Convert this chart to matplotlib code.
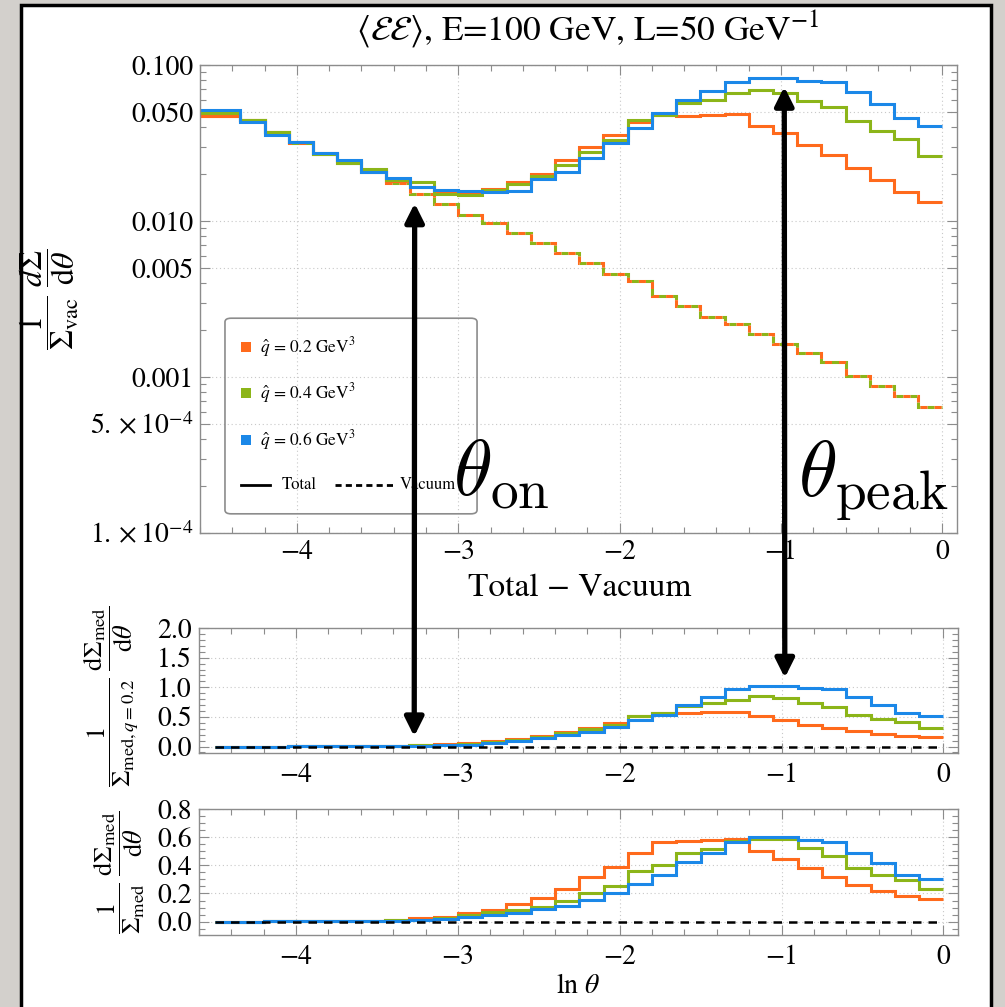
import numpy as np
import matplotlib
matplotlib.use("Agg")
import matplotlib.pyplot as plt
from matplotlib.patches import Rectangle, FancyBboxPatch, ConnectionPatch
from matplotlib.lines import Line2D
from matplotlib.ticker import FixedLocator, FixedFormatter, MultipleLocator, LogLocator, NullFormatter

plt.rcParams['font.family'] = 'STIXGeneral'
plt.rcParams['mathtext.fontset'] = 'stix'
plt.rcParams['axes.unicode_minus'] = True

# ln(theta) bins of width 0.15; the top panel's first bin runs out past the frame
edges = np.round(np.linspace(-4.5, 0.0, 31), 2)
top_edges = np.r_[-4.65, edges[1:]]

qhat = ["0.2", "0.4", "0.6"]
colors = ["#ff6a1c", "#8cb519", "#1b88e8"]

# 1/Sigma_vac dSigma/dtheta
total_02 = [0.0471, 0.0444, 0.0374, 0.0320, 0.0272, 0.0242, 0.0212, 0.0181, 0.0165, 0.0155,
            0.0154, 0.0160, 0.0177, 0.0201, 0.0246, 0.0299, 0.0356, 0.0433, 0.0478, 0.0471,
            0.0478, 0.0485, 0.0408, 0.0368, 0.0307, 0.0267, 0.0220, 0.0183, 0.0154, 0.0132]
total_04 = [0.0494, 0.0444, 0.0374, 0.0320, 0.0270, 0.0237, 0.0217, 0.0183, 0.0177, 0.0150,
            0.0147, 0.0158, 0.0174, 0.0194, 0.0228, 0.0278, 0.0331, 0.0444, 0.0478, 0.0568,
            0.0597, 0.0665, 0.0692, 0.0665, 0.0590, 0.0541, 0.0438, 0.0379, 0.0337, 0.0261]
total_06 = [0.0515, 0.0433, 0.0356, 0.0321, 0.0272, 0.0246, 0.0207, 0.0190, 0.0166, 0.0158,
            0.0155, 0.0154, 0.0156, 0.0185, 0.0206, 0.0255, 0.0315, 0.0392, 0.0490, 0.0597,
            0.0684, 0.0774, 0.0829, 0.0822, 0.0789, 0.0774, 0.0668, 0.0562, 0.0459, 0.0408]
vacuum = [0.0470, 0.0442, 0.0370, 0.0318, 0.0268, 0.0236, 0.0205, 0.0176, 0.0148, 0.0128,
          0.0110, 0.00966, 0.00841, 0.00719, 0.00627, 0.00536, 0.00457, 0.00412, 0.00330, 0.00285,
          0.00244, 0.00219, 0.00189, 0.00163, 0.00142, 0.00124, 0.00102, 0.00088, 0.00076, 0.000646]

# Total - Vacuum, normalised to the qhat = 0.2 medium part
med_rel_02 = [0.0, 0.0, 0.0, 0.002, 0.004, 0.006, 0.010, 0.015, 0.025, 0.035,
              0.057, 0.085, 0.120, 0.170, 0.240, 0.320, 0.390, 0.510, 0.560, 0.560,
              0.575, 0.590, 0.507, 0.440, 0.367, 0.320, 0.265, 0.210, 0.180, 0.158]
med_rel_04 = [0.0, 0.0, 0.0, 0.002, 0.004, 0.006, 0.009, 0.013, 0.020, 0.030,
              0.045, 0.075, 0.110, 0.155, 0.220, 0.290, 0.370, 0.510, 0.560, 0.680,
              0.730, 0.790, 0.856, 0.817, 0.730, 0.665, 0.535, 0.473, 0.417, 0.320]
med_rel_06 = [0.0, 0.0, 0.0, 0.002, 0.003, 0.005, 0.008, 0.012, 0.015, 0.020,
              0.030, 0.060, 0.085, 0.140, 0.190, 0.250, 0.335, 0.440, 0.535, 0.700,
              0.830, 0.970, 1.025, 1.025, 0.986, 0.970, 0.830, 0.700, 0.564, 0.507]

# Total - Vacuum, each normalised to itself
med_02 = [0.0, 0.0, 0.001, 0.002, 0.003, 0.005, 0.008, 0.012, 0.024, 0.036,
          0.060, 0.083, 0.122, 0.169, 0.235, 0.316, 0.385, 0.487, 0.563, 0.570,
          0.582, 0.587, 0.504, 0.447, 0.380, 0.320, 0.261, 0.221, 0.185, 0.162]
med_04 = [0.0, 0.0, 0.001, 0.001, 0.002, 0.004, 0.006, 0.009, 0.015, 0.025,
          0.046, 0.068, 0.086, 0.105, 0.146, 0.200, 0.255, 0.363, 0.399, 0.487,
          0.516, 0.570, 0.587, 0.587, 0.523, 0.468, 0.380, 0.328, 0.297, 0.231]
med_06 = [0.0, 0.0, 0.001, 0.001, 0.002, 0.003, 0.004, 0.006, 0.010, 0.017,
          0.031, 0.048, 0.060, 0.090, 0.110, 0.155, 0.202, 0.266, 0.332, 0.427,
          0.491, 0.563, 0.601, 0.601, 0.582, 0.565, 0.491, 0.416, 0.332, 0.304]

vac_minus_vac = np.asarray(vacuum) - np.asarray(vacuum)

xticks = [-4, -3, -2, -1, 0]
top_yticks = [1e-4, 5e-4, 1e-3, 5e-3, 1e-2, 5e-2, 1e-1]
top_yticklabels = [r"$1.\times10^{-4}$", r"$5.\times10^{-4}$", "0.001", "0.005",
                   "0.010", "0.050", "0.100"]
mid_yticks = [0.0, 0.5, 1.0, 1.5, 2.0]
bot_yticks = [0.0, 0.2, 0.4, 0.6, 0.8]

theta_on = -3.27
theta_peak = -0.98

frame_c = "#8c8c8c"
lw = 2.2

fig = plt.figure(figsize=(10.05, 10.07), dpi=100)
fig.patch.set_facecolor("#d3d0cc")
fig.add_artist(Rectangle((21 / 1005, -0.02), 970 / 1005, 1.02 - 5 / 1007,
                         transform=fig.transFigure, facecolor="white",
                         edgecolor="black", lw=2.5, zorder=-1))

ax1 = fig.add_axes([0.199, 0.4707, 0.7532, 0.4647])
ax2 = fig.add_axes([0.198, 0.2522, 0.7552, 0.1241])
ax3 = fig.add_axes([0.198, 0.0715, 0.7552, 0.1251])


def style_axes(ax, xpad):
    ax.set_xlim(-4.6, 0.09)
    ax.xaxis.set_major_locator(FixedLocator(xticks))
    ax.xaxis.set_minor_locator(MultipleLocator(0.2))
    for s in ax.spines.values():
        s.set_color(frame_c)
        s.set_linewidth(1.0)
    ax.tick_params(which="both", direction="in", top=True, right=True,
                   color=frame_c, width=0.8, labelsize=20)
    ax.tick_params(which="major", length=7)
    ax.tick_params(which="minor", length=4)
    ax.tick_params(axis="x", pad=xpad)
    ax.tick_params(axis="y", pad=5)
    ax.grid(True, which="major", color="#c8c8c8", ls=(0, (1, 2.5)), lw=0.8)
    ax.set_axisbelow(True)


# top panel: total (solid) and vacuum (dashed)
ax1.set_yscale("log")
ax1.set_ylim(1e-4, 0.1)
style_axes(ax1, 5)
ax1.yaxis.set_major_locator(FixedLocator(top_yticks))
ax1.yaxis.set_major_formatter(FixedFormatter(top_yticklabels))
ax1.yaxis.set_minor_locator(LogLocator(subs=np.arange(2, 10)))
ax1.yaxis.set_minor_formatter(NullFormatter())

ax1.stairs(vacuum, top_edges, baseline=None, color=colors[1], lw=lw, ls=(0, (2.3, 2.3)))
ax1.stairs(vacuum, top_edges, baseline=None, color=colors[0], lw=lw, ls=(2.3, (2.3, 2.3)))
for vals, c in zip([total_02, total_04, total_06], colors):
    ax1.stairs(vals, top_edges, baseline=None, color=c, lw=lw)

# hand-built legend box
ax1.add_patch(FancyBboxPatch((0.033, 0.041), 0.333, 0.418, transform=ax1.transAxes,
                             boxstyle="round,pad=0,rounding_size=0.008",
                             facecolor="none", edgecolor=frame_c, lw=1.2, zorder=3))
for q, c, yy in zip(qhat, colors, [0.397, 0.299, 0.199]):
    ax1.add_patch(Rectangle((0.054, yy - 0.0107), 0.0132, 0.0214, transform=ax1.transAxes,
                            facecolor=c, edgecolor="none", zorder=3))
    ax1.text(0.079, yy, r"$\hat{q}$ = " + q + r" GeV$^3$", transform=ax1.transAxes,
             fontsize=12.5, va="center", ha="left", zorder=3)
ax1.add_line(Line2D([0.054, 0.092], [0.103, 0.103], transform=ax1.transAxes,
                    color="black", lw=2, zorder=3))
ax1.text(0.108, 0.103, "Total", transform=ax1.transAxes, fontsize=12, va="center", zorder=3)
ax1.add_line(Line2D([0.178, 0.255], [0.103, 0.103], transform=ax1.transAxes,
                    color="black", lw=2, ls=(0, (2.2, 1.5)), zorder=3))
ax1.text(0.264, 0.103, "Vacuum", transform=ax1.transAxes, fontsize=12, va="center", zorder=3)

ax1.text(0.334, 0.081, r"$\theta_{\rm on}$", transform=ax1.transAxes, fontsize=57,
         math_fontfamily="cm", ha="left", va="baseline", zorder=4)
ax1.text(0.790, 0.077, r"$\theta_{\rm peak}$", transform=ax1.transAxes, fontsize=57,
         math_fontfamily="cm", ha="left", va="baseline", zorder=4)

# middle panel
ax2.set_ylim(-0.11, 2.0)
style_axes(ax2, 7)
ax2.yaxis.set_major_locator(FixedLocator(mid_yticks))
ax2.yaxis.set_major_formatter(FixedFormatter(["0.0", "0.5", "1.0", "1.5", "2.0"]))
ax2.yaxis.set_minor_locator(MultipleLocator(0.1))
for vals, c in zip([med_rel_02, med_rel_04, med_rel_06], colors):
    ax2.stairs(vals, edges, baseline=None, color=c, lw=lw)
ax2.stairs(vac_minus_vac, edges, baseline=None, color="black", lw=1.8, ls=(0, (3.4, 2.8)))

# bottom panel
ax3.set_ylim(-0.095, 0.8)
style_axes(ax3, 7)
ax3.yaxis.set_major_locator(FixedLocator(bot_yticks))
ax3.yaxis.set_major_formatter(FixedFormatter(["0.0", "0.2", "0.4", "0.6", "0.8"]))
ax3.yaxis.set_minor_locator(MultipleLocator(0.05))
for vals, c in zip([med_02, med_04, med_06], colors):
    ax3.stairs(vals, edges, baseline=None, color=c, lw=lw)
ax3.stairs(vac_minus_vac, edges, baseline=None, color="black", lw=1.8, ls=(0, (3.4, 2.8)))

# axis labels (rotated; the label coordinate is the right-hand edge of the text)
ax1.set_ylabel(r"$\dfrac{1}{\Sigma_{\rm vac}}\;\dfrac{d\Sigma}{{\rm d}\theta}$", fontsize=23)
ax1.yaxis.set_label_coords(-0.157, 0.5)
ax2.set_ylabel(r"$\dfrac{1}{\Sigma_{{\rm med},q=0.2}}\;\dfrac{{\rm d}\Sigma_{\rm med}}{{\rm d}\theta}$",
               fontsize=19)
ax2.yaxis.set_label_coords(-0.077, 0.45)
ax3.set_ylabel(r"$\dfrac{1}{\Sigma_{\rm med}}\;\dfrac{{\rm d}\Sigma_{\rm med}}{{\rm d}\theta}$",
               fontsize=19)
ax3.yaxis.set_label_coords(-0.069, 0.5)

fig.text(0.585, 0.970, r"$\langle\mathcal{E}\mathcal{E}\rangle$, E=100 GeV, L=50 GeV$^{-1}$",
         ha="center", va="center", fontsize=25.5)
fig.text(0.577, 0.416, "Total \u2212 Vacuum", ha="center", va="center", fontsize=24)
fig.text(0.575, 0.020, r"ln $\theta$", ha="center", va="center", fontsize=20)

# double arrows linking the onset and the peak across the panels
for x0, ya, yb in [(theta_on, 0.013, 0.17), (theta_peak, 0.0726, 1.16)]:
    con = ConnectionPatch(xyA=(x0, ya), coordsA=ax1.transData,
                          xyB=(x0, yb), coordsB=ax2.transData,
                          arrowstyle="<|-|>,head_length=0.7,head_width=0.35",
                          mutation_scale=16, shrinkA=0, shrinkB=0,
                          color="black", lw=3.8, zorder=10)
    fig.add_artist(con)

fig.savefig("out.png", dpi=100, facecolor=fig.get_facecolor())
